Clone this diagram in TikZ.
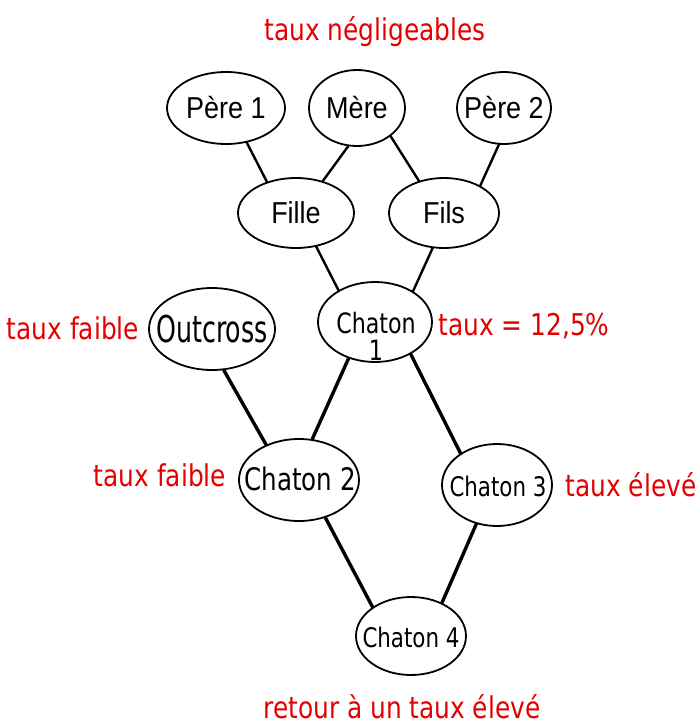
\documentclass[tikz,border=0pt]{standalone}
\usepackage{fontspec}
\setmainfont{Liberation Sans}
\newfontfamily\labfont[FakeStretch=0.92]{DejaVu Sans Condensed}
\newfontfamily\kitfont[FakeStretch=0.88]{DejaVu Sans Condensed}
\newfontfamily\tallfont[FakeStretch=0.76]{DejaVu Sans Condensed}
\usetikzlibrary{shapes.geometric}
\definecolor{lblred}{RGB}{228,0,0}
\newcommand{\tallarial}[1]{\scalebox{1}[1.12]{#1}}
\tikzset{
  kin/.style={ellipse, draw=black, line width=1.8pt, inner sep=0pt},
  kintext/.style={inner sep=0pt, align=center},
  toptext/.style={kintext, font=\fontsize{27}{28}\selectfont},
  link/.style={line width=2.4pt, line cap=round},
  biglink/.style={line width=3.4pt, line cap=round},
  note/.style={text=lblred, font=\labfont\fontsize{30}{32}\selectfont, inner sep=0pt}
}
\begin{document}
\begin{tikzpicture}[x=1pt, y=-1pt]
\useasboundingbox (0,0) rectangle (696,725);

% grandparents and parents
\node[kin, minimum width=118, minimum height=72] (pere1) at (226,108) {};
\node[kin, minimum width=96, minimum height=76]  (mere)  at (357,108) {};
\node[kin, minimum width=94, minimum height=72]  (pere2) at (504,108) {};
\node[kin, minimum width=116, minimum height=70] (fille) at (296,213) {};
\node[kin, minimum width=110, minimum height=70] (fils)  at (444,213) {};
\node[toptext] (pere1t) at (pere1) {\tallarial{Père 1}};
\node[toptext] (meret)  at (mere)  {\tallarial{Mère}};
\node[toptext] (pere2t) at (pere2) {\tallarial{Père 2}};
\node[toptext] (fillet) at (fille) {\tallarial{Fille}};
\node[toptext] (filst)  at (fils)  {\tallarial{Fils}};

% kittens
\node[kin, minimum width=114, minimum height=80] (ch1) at (375,322) {};
\node[kin, minimum width=126, minimum height=82] (out) at (212,329) {};
\node[kin, minimum width=120, minimum height=82] (ch2) at (299,480) {};
\node[kin, minimum width=110, minimum height=82] (ch3) at (497,485) {};
\node[kin, minimum width=110, minimum height=78] (ch4) at (411,636) {};
\node[kintext, font=\kitfont\fontsize{28}{27}\selectfont] (ch1t) at (376,336) {Chaton\\1};
\node[kintext, font=\tallfont\fontsize{37}{37}\selectfont] (outt) at (212,329) {Outcross};
\node[kintext, font=\kitfont\fontsize{31}{31}\selectfont] (ch2t) at (300,479) {Chaton 2};
\node[kintext, font=\kitfont\fontsize{27}{27}\selectfont] (ch3t) at (498,486) {Chaton 3};
\node[kintext, font=\kitfont\fontsize{27}{27}\selectfont] (ch4t) at (411,637) {Chaton 4};

% lineage links
\draw[link] (pere1.-59) -- (fille.133);
\draw[link] (mere.257) -- (fille.50);
\draw[link] (mere.-40) -- (fils.128);
\draw[link] (pere2.262) -- (fils.37);
\draw[link] (fille.-59) -- (ch1.139);
\draw[link] (fils.252) -- (ch1.39);
\draw[biglink] (ch1.234) -- (ch2.72);
\draw[biglink] (ch1.-42) -- (ch3.139);
\draw[biglink] (out.-74) -- (ch2.133);
\draw[biglink] (ch2.-55) -- (ch4.143);
\draw[biglink] (ch3.242) -- (ch4.47);

% inbreeding rates
\node[note] (n0) at (375,32) {taux négligeables};
\node[note] (n1) at (73,328) {taux faible};
\node[note] (n2) at (524,326) {taux = 12,5\%};
\node[note] (n3) at (160,475) {taux faible};
\node[note] (n4) at (631,485) {taux élevé};
\node[note] (n5) at (402,707) {retour à un taux élevé};
\end{tikzpicture}
\end{document}
